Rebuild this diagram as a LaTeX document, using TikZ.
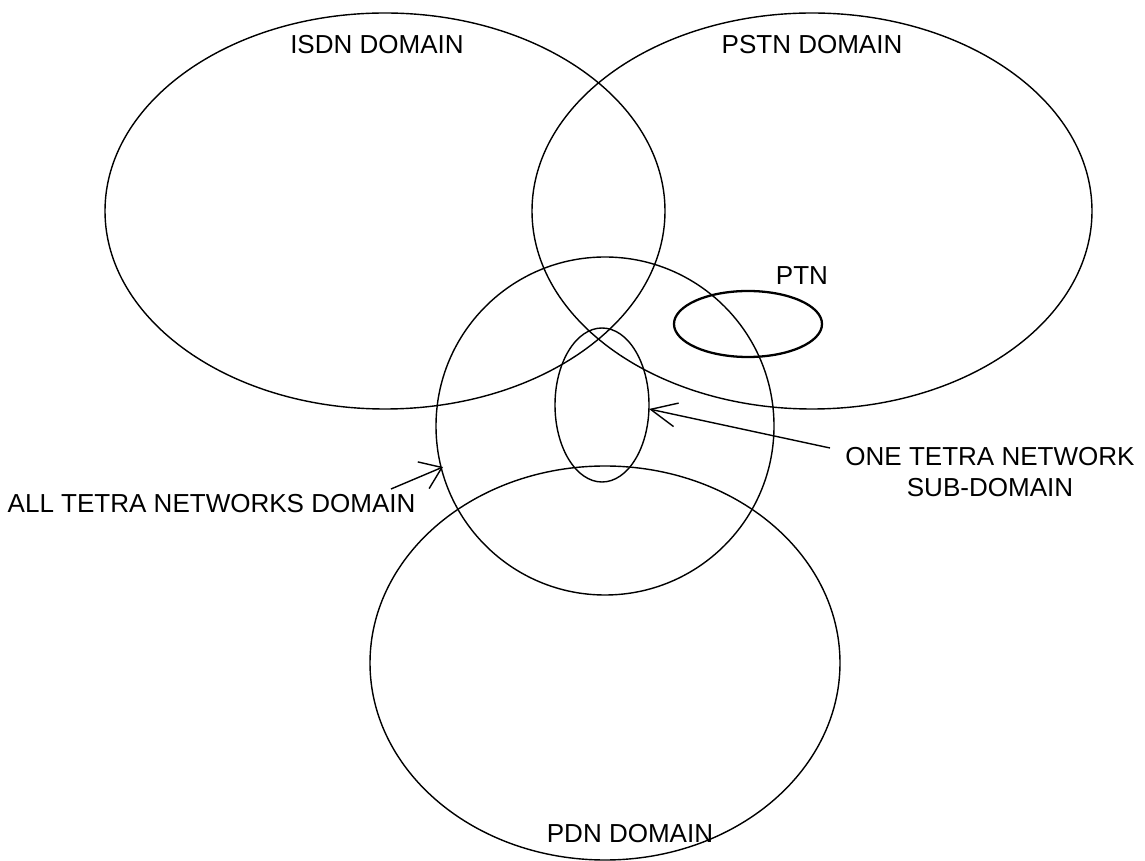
\documentclass[tikz,border=0pt]{standalone}
\usepackage{fontspec}
\setmainfont{Liberation Sans}
\usetikzlibrary{arrows.meta}
\tikzset{
  dom/.style={line width=0.4pt},
  lbl/.style={inner sep=0pt, font=\fontsize{7.4}{8.6}\selectfont},
  pointer/.style={line width=0.4pt, -{Straight Barb[length=2.6mm,width=2.4mm]}},
}

\begin{document}
\begin{tikzpicture}[x=0.01cm,y=-0.01cm]
\useasboundingbox (0,0) rectangle (1145,861);
\coordinate (isdn) at (385,211);
\coordinate (pstn) at (812,211);
\coordinate (tetra) at (605,426);
\coordinate (sub) at (602,405);
\coordinate (ptn) at (748,324);
\coordinate (pdn) at (605,663);
\coordinate (tip1) at (443,467);
\coordinate (tail1) at (391,489);
\coordinate (tip2) at (649,409);
\coordinate (tail2) at (830,448);
\draw[dom] (isdn) ellipse [x radius=280, y radius=198];
\draw[dom] (pstn) ellipse [x radius=280, y radius=198];
\draw[dom] (tetra) circle [radius=169];
\draw[dom] (sub) ellipse [x radius=47, y radius=77];
\draw[dom, line width=0.65pt] (ptn) ellipse [x radius=74, y radius=33];
\draw[dom] (pdn) ellipse [x radius=235, y radius=197];
\node[lbl, anchor=base] (isdnlbl) at (377,54) {ISDN DOMAIN};
\node[lbl, anchor=base] (pstnlbl) at (812,54) {PSTN DOMAIN};
\node[lbl, anchor=base] (ptnlbl) at (802,285) {PTN};
\node[lbl, anchor=base] (pdnlbl) at (630,843) {PDN DOMAIN};
\node[lbl, anchor=base west] (alllbl) at (7,513) {ALL TETRA NETWORKS DOMAIN};
\node[lbl, anchor=north, align=center] (onelbl) at (990,447) {ONE TETRA NETWORK\\SUB-DOMAIN};
\draw[pointer, -{Straight Barb[length=2mm,width=2.9mm]}] (tail1) -- (tip1);
\draw[pointer] (tail2) -- (tip2);
\end{tikzpicture}
\end{document}
